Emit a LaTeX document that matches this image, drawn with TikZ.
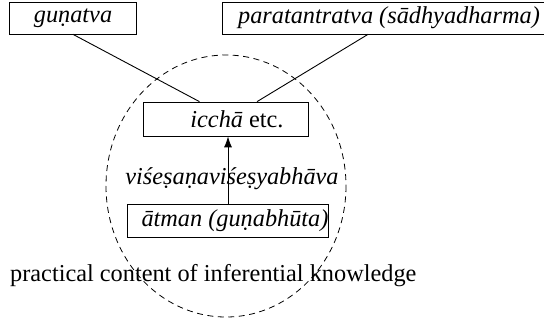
\documentclass[tikz,border=0pt]{standalone}
\usepackage{fontspec}
\setmainfont{Liberation Serif}
\usepackage{tikz}
\usetikzlibrary{shapes,arrows.meta,positioning,calc}

\begin{document}
\begin{tikzpicture}[x=1pt, y=-1pt,
    box/.style={draw, line width=0.7pt, inner sep=0pt, font=\fontsize{24.3}{28}\selectfont\itshape},
    every node/.append style={font=\fontsize{24.3}{28}\selectfont}]
    \useasboundingbox (0,0) rectangle (544,322);

    % Properties
    \node[box, minimum width=127pt, minimum height=32pt] (gunatva) at (73,18) {guṇatva};
    \node[box, minimum width=330pt, minimum height=32pt] (para) at (387,18) {\hspace*{4pt}paratantratva (sādhyadharma)};

    % Desire etc.
    \node[box, minimum width=165pt, minimum height=34pt] (iccha) at (225.5,119) {\hspace*{23pt}icchā \upshape etc.};

    % Self
    \node[box, minimum width=200pt, minimum height=33pt] (atman) at (228,220.5) {\hspace*{14pt}ātman (guṇabhūta)};

    % Relation label
    \node[font=\fontsize{24.3}{28}\selectfont\itshape] (rel) at (232,179) {viśeṣaṇaviśeṣyabhāva};

    % Content
    \draw[line width=0.8pt, dash pattern=on 6pt off 4.5pt] (226,186) ellipse [x radius=120, y radius=131];
    \node[anchor=base west, inner sep=0pt] (content) at (10,281) {practical content of inferential knowledge};

    % Connections
    \draw[line width=0.9pt] (gunatva.south) -- ($(iccha.north)+(-26,0)$);
    \draw[line width=0.9pt] ($(para.south)+(-19,0)$) -- ($(iccha.north)+(31.5,0)$);
    \draw[line width=0.9pt, -{Latex[length=11pt, width=8pt]}] (atman.north) -- (atman.north |- iccha.south);
\end{tikzpicture}
\end{document}
